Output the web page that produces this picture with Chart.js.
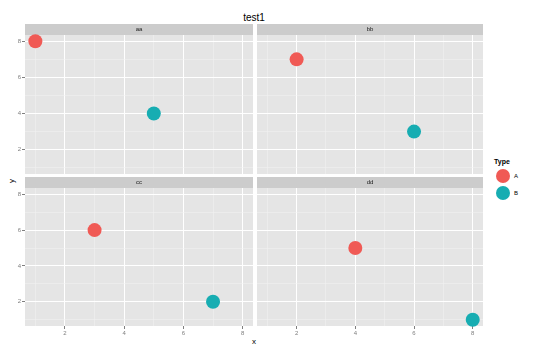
<!DOCTYPE html>
<html>
<head>
<meta charset="utf-8">
<script src="https://cdn.jsdelivr.net/npm/chart.js@4"></script>
<style>
body { margin: 0; background: #fff; width: 540px; height: 353px; position: relative; overflow: hidden; font-family: "Liberation Sans", Arial, sans-serif; }
canvas { position: absolute; }
.lbl { position: absolute; white-space: nowrap; line-height: 1; }
</style>
</head>
<body>
<div class="lbl" style="left:254px; top:13px; font-size:10px; color:#000; transform:translateX(-50%)">test1</div>
<div class="lbl" style="left:12px; top:181px; font-size:8px; color:#000; transform:translate(-50%,-50%) rotate(-90deg)">y</div>
<div class="lbl" style="left:254px; top:342px; font-size:8px; color:#000; transform:translate(-50%,-50%)">x</div>
<div id="legend"></div>

<script>
const panelNames = ["aa", "bb", "cc", "dd"];
const typeNames = ["A", "B"];
const typeColors = ["#F05A55", "#17ADB2"];

// one point per type in each panel
const xA = [1, 2, 3, 4];
const yA = [8, 7, 6, 5];
const xB = [5, 6, 7, 8];
const yB = [4, 3, 2, 1];

const breaks = [1, 2, 3, 4, 5, 6, 7, 8];
const tickLabels = ["", "2", "", "4", "", "6", "", "8"];
const axisMin = 0.65;
const axisMax = 8.35;

const xs = [xA, xB];
const ys = [yA, yB];
const fontFamily = "'Liberation Sans', Arial, sans-serif";

// where each facet sits on the page
const panels = [
    { left: 0,   top: 24,  width: 253, height: 150, yAxis: true,  xAxis: false },
    { left: 257, top: 24,  width: 226, height: 150, yAxis: false, xAxis: false },
    { left: 0,   top: 177, width: 253, height: 163, yAxis: true,  xAxis: true },
    { left: 257, top: 177, width: 226, height: 163, yAxis: false, xAxis: true }
];

const stripHeight = 11;

const panelBackground = {
    id: "panelBackground",
    beforeDraw(chart, args, opts) {
        const ctx = chart.ctx;
        const a = chart.chartArea;
        ctx.save();
        ctx.fillStyle = "#E5E5E5";
        ctx.fillRect(a.left, a.top, a.right - a.left, a.bottom - a.top);
        ctx.fillStyle = "#CCCCCC";
        ctx.fillRect(a.left, a.top - stripHeight, a.right - a.left, stripHeight);
        ctx.fillStyle = "#1A1A1A";
        ctx.font = "6px " + fontFamily;
        ctx.textAlign = "center";
        ctx.textBaseline = "middle";
        ctx.fillText(opts.label, (a.left + a.right) / 2, a.top - stripHeight / 2);
        ctx.restore();
    }
};

function isMajor(c) {
    return c.tick && c.tick.value % 2 === 0;
}

function makeScale(showLabels, size, horizontal) {
    return {
        type: "linear",
        min: axisMin,
        max: axisMax,
        afterBuildTicks: function(s) {
            s.ticks = breaks.map(v => ({ value: v }));
        },
        afterFit: function(s) {
            if (horizontal) {
                s.height = size;
                s.paddingLeft = 0;
                s.paddingRight = 0;
            } else {
                s.width = size;
                s.paddingTop = 0;
                s.paddingBottom = 0;
            }
        },
        border: { display: false },
        grid: {
            color: c => isMajor(c) ? "#FFFFFF" : "#F2F2F2",
            lineWidth: c => isMajor(c) ? 1 : 0.5,
            drawTicks: showLabels,
            tickLength: 3,
            tickColor: c => isMajor(c) ? "#7F7F7F" : "rgba(0,0,0,0)"
        },
        ticks: {
            display: showLabels,
            autoSkip: false,
            maxRotation: 0,
            padding: 1,
            color: "#7F7F7F",
            font: { size: 6, family: fontFamily },
            callback: (value, i) => tickLabels[i]
        }
    };
}

panels.forEach((p, i) => {
    const canvas = document.createElement("canvas");
    canvas.width = p.width;
    canvas.height = p.height;
    canvas.style.left = p.left + "px";
    canvas.style.top = p.top + "px";
    document.body.appendChild(canvas);

    new Chart(canvas.getContext("2d"), {
        type: "scatter",
        data: {
            datasets: typeNames.map((name, t) => ({
                label: name,
                data: [{ x: xs[t][i], y: ys[t][i] }],
                backgroundColor: typeColors[t],
                borderWidth: 0,
                pointRadius: 7,
                pointHoverRadius: 7,
                clip: false
            }))
        },
        options: {
            responsive: false,
            animation: false,
            devicePixelRatio: 1,
            layout: { autoPadding: false, padding: { top: stripHeight, left: 0, right: 0, bottom: 0 } },
            scales: {
                x: makeScale(p.xAxis, p.xAxis ? 14 : 0, true),
                y: makeScale(p.yAxis, p.yAxis ? 25 : 0, false)
            },
            plugins: {
                legend: { display: false },
                tooltip: { enabled: false },
                panelBackground: { label: panelNames[i] }
            }
        },
        plugins: [panelBackground]
    });
});

// legend for Type
const legend = document.getElementById("legend");
legend.innerHTML = '<div class="lbl" style="left:494px; top:158px; font-size:7px; font-weight:bold; color:#000">Type</div>';
typeNames.forEach((name, t) => {
    const cy = 176 + t * 17;
    legend.innerHTML +=
        '<div style="position:absolute; left:496px; top:' + (cy - 7) + 'px; width:14px; height:14px; border-radius:50%; background:' + typeColors[t] + '"></div>' +
        '<div class="lbl" style="left:514px; top:' + (cy - 3) + 'px; font-size:6px; color:#000">' + name + '</div>';
});
</script>
</body>
</html>
